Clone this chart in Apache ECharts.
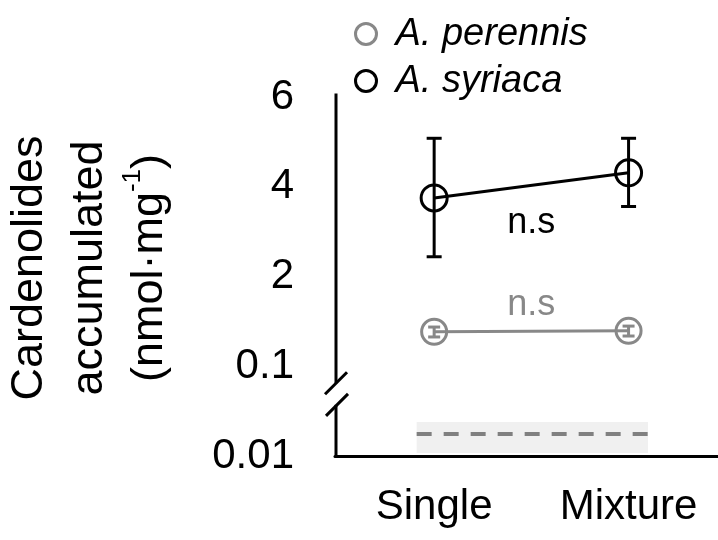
<!DOCTYPE html>
<html>
<head>
<meta charset="utf-8">
<script src="https://cdn.jsdelivr.net/npm/echarts@6/dist/echarts.min.js"></script>
<style>
    html, body { margin: 0; padding: 0; background: #fff; }
    #main { width: 718px; height: 540px; }
</style>
</head>
<body>
<div id="main"></div>
<script>
var categories = ['Single', 'Mixture'];
var yTickValues = [0.01, 0.1, 2, 4, 6];
var yTickLabels = ['0.01', '0.1', '2', '4', '6'];

var perennisMean = [0.83, 0.85];
var perennisLow = [0.72, 0.74];
var perennisHigh = [0.93, 0.95];

var syriacaMean = [3.75, 4.31];
var syriacaLow = [2.44, 3.56];
var syriacaHigh = [5.08, 5.08];

// shaded band + dashed line near the bottom
var bandX = [-0.09, 1.10];
var bandY = [0.013, 0.044];
var dashY = 0.032;

var nsLabels = [
    { x: 0.5, y: 3.19, color: '#000000' },
    { x: 0.5, y: 1.40, color: '#888888' }
];

var GRAY = '#888888';
var BLACK = '#000000';
var FONT = '"Liberation Sans", Arial, sans-serif';

// broken axis: values are mapped piecewise-linear between the tick values
function toPos(v) {
    for (var i = 0; i < yTickValues.length - 1; i++) {
        if (v <= yTickValues[i + 1] || i === yTickValues.length - 2) {
            return i + (v - yTickValues[i]) / (yTickValues[i + 1] - yTickValues[i]);
        }
    }
}

function lineData(mean) {
    var out = [];
    for (var i = 0; i < mean.length; i++) {
        out.push([i, toPos(mean[i])]);
    }
    return out;
}

function errData(low, high) {
    var out = [];
    for (var i = 0; i < low.length; i++) {
        out.push([i, toPos(low[i]), toPos(high[i])]);
    }
    return out;
}

function errorBars(color, capW) {
    return function (params, api) {
        var top = api.coord([api.value(0), api.value(2)]);
        var bot = api.coord([api.value(0), api.value(1)]);
        var st = { stroke: color, lineWidth: 3 };
        return {
            type: 'group',
            children: [
                { type: 'line', shape: { x1: top[0], y1: top[1], x2: bot[0], y2: bot[1] }, style: st },
                { type: 'line', shape: { x1: top[0] - capW / 2, y1: top[1], x2: top[0] + capW / 2, y2: top[1] }, style: st },
                { type: 'line', shape: { x1: bot[0] - capW / 2, y1: bot[1], x2: bot[0] + capW / 2, y2: bot[1] }, style: st }
            ]
        };
    };
}

var xMin = -0.51, xMax = 1.46;
var axisTop = 4.04, breakTop = 0.81, breakBottom = 0.57;

var chart = echarts.init(document.getElementById('main'));

var option = {
    animation: false,
    grid: { left: 335, right: 0, top: 97, bottom: 84 },
    legend: {
        orient: 'vertical',
        left: 349,
        top: 10,
        icon: 'circle',
        itemWidth: 21,
        itemHeight: 21,
        itemGap: 9,
        textStyle: { fontFamily: FONT, fontSize: 38, fontStyle: 'italic', color: BLACK, padding: [0, 0, 0, 14] },
        data: [
            { name: 'A. perennis', itemStyle: { color: '#fff', borderColor: GRAY, borderWidth: 3 } },
            { name: 'A. syriaca', itemStyle: { color: '#fff', borderColor: BLACK, borderWidth: 3 } }
        ]
    },
    graphic: [{
        type: 'text',
        x: 90,
        y: 268,
        rotation: Math.PI / 2,
        style: {
            text: '{a|Cardenolides}\n{a|accumulated}\n{a|(nmol·mg}{s|-1}{a|)}',
            align: 'center',
            verticalAlign: 'middle',
            fill: BLACK,
            rich: {
                a: { fontFamily: FONT, fontSize: 45, lineHeight: 60, fill: BLACK },
                s: { fontFamily: FONT, fontSize: 26, lineHeight: 60, verticalAlign: 'top', fill: BLACK }
            }
        }
    }],
    xAxis: {
        type: 'value',
        min: xMin,
        max: xMax,
        axisLine: { show: true, lineStyle: { color: BLACK, width: 3 } },
        axisTick: { show: false },
        splitLine: { show: false },
        axisLabel: {
            customValues: [0, 1],
            formatter: function (v) { return categories[Math.round(v)]; },
            margin: 30,
            fontFamily: FONT,
            fontSize: 42,
            color: BLACK
        }
    },
    yAxis: {
        type: 'value',
        min: 0,
        max: 4,
        axisLine: { show: false },
        axisTick: { show: false },
        splitLine: { show: false },
        axisLabel: {
            customValues: [0, 1, 2, 3, 4],
            formatter: function (v) { return yTickLabels[Math.round(v)]; },
            margin: 41,
            fontFamily: FONT,
            fontSize: 42,
            color: BLACK
        }
    },
    series: [
        {
            name: 'band',
            type: 'custom',
            silent: true,
            z: 1,
            data: [[bandX[0], toPos(bandY[0]), bandX[1], toPos(bandY[1]), toPos(dashY)]],
            renderItem: function (params, api) {
                var p0 = api.coord([api.value(0), api.value(3)]);
                var p1 = api.coord([api.value(2), api.value(1)]);
                var d = api.coord([api.value(0), api.value(4)]);
                return {
                    type: 'group',
                    children: [
                        { type: 'rect', shape: { x: p0[0], y: p0[1], width: p1[0] - p0[0], height: p1[1] - p0[1] }, style: { fill: '#f0f0f0' } },
                        { type: 'line', shape: { x1: p0[0], y1: d[1], x2: p1[0], y2: d[1] }, style: { stroke: '#808080', lineWidth: 4, lineDash: [15, 12] } }
                    ]
                };
            }
        },
        {
            name: 'y axis',
            type: 'custom',
            silent: true,
            z: 5,
            data: [[xMin, axisTop, breakTop, breakBottom, 0]],
            renderItem: function (params, api) {
                var a = api.coord([api.value(0), api.value(1)]);
                var b = api.coord([api.value(0), api.value(2)]);
                var c = api.coord([api.value(0), api.value(3)]);
                var e = api.coord([api.value(0), api.value(4)]);
                var st = { stroke: BLACK, lineWidth: 3 };
                return {
                    type: 'group',
                    children: [
                        { type: 'line', shape: { x1: a[0] + 1, y1: a[1], x2: b[0] + 1, y2: b[1] }, style: st },
                        { type: 'line', shape: { x1: c[0] + 1, y1: c[1], x2: e[0] + 1, y2: e[1] }, style: st },
                        { type: 'line', shape: { x1: b[0] - 10, y1: b[1] + 11, x2: b[0] + 12, y2: b[1] - 11 }, style: st },
                        { type: 'line', shape: { x1: c[0] - 9, y1: c[1] + 11, x2: c[0] + 13, y2: c[1] - 11 }, style: st }
                    ]
                };
            }
        },
        {
            name: 'A. perennis',
            type: 'line',
            z: 3,
            data: lineData(perennisMean),
            symbol: 'circle',
            symbolSize: 25,
            itemStyle: { color: 'rgba(0,0,0,0)', borderColor: GRAY, borderWidth: 3 },
            lineStyle: { color: GRAY, width: 3 }
        },
        {
            name: 'perennis err',
            type: 'custom',
            z: 3,
            data: errData(perennisLow, perennisHigh),
            renderItem: errorBars(GRAY, 12)
        },
        {
            name: 'A. syriaca',
            type: 'line',
            z: 3,
            data: lineData(syriacaMean),
            symbol: 'circle',
            symbolSize: 26,
            itemStyle: { color: 'rgba(0,0,0,0)', borderColor: BLACK, borderWidth: 3 },
            lineStyle: { color: BLACK, width: 3 }
        },
        {
            name: 'syriaca err',
            type: 'custom',
            z: 3,
            data: errData(syriacaLow, syriacaHigh),
            renderItem: errorBars(BLACK, 15)
        },
        {
            name: 'ns',
            type: 'custom',
            z: 4,
            data: nsLabels.map(function (n) { return [n.x, toPos(n.y)]; }),
            renderItem: function (params, api) {
                var p = api.coord([api.value(0), api.value(1)]);
                return {
                    type: 'text',
                    x: p[0],
                    y: p[1],
                    style: {
                        text: 'n.s',
                        align: 'center',
                        verticalAlign: 'middle',
                        fontFamily: FONT,
                        fontSize: 36,
                        fill: nsLabels[params.dataIndex].color
                    }
                };
            }
        }
    ]
};

chart.setOption(option);
</script>
</body>
</html>
